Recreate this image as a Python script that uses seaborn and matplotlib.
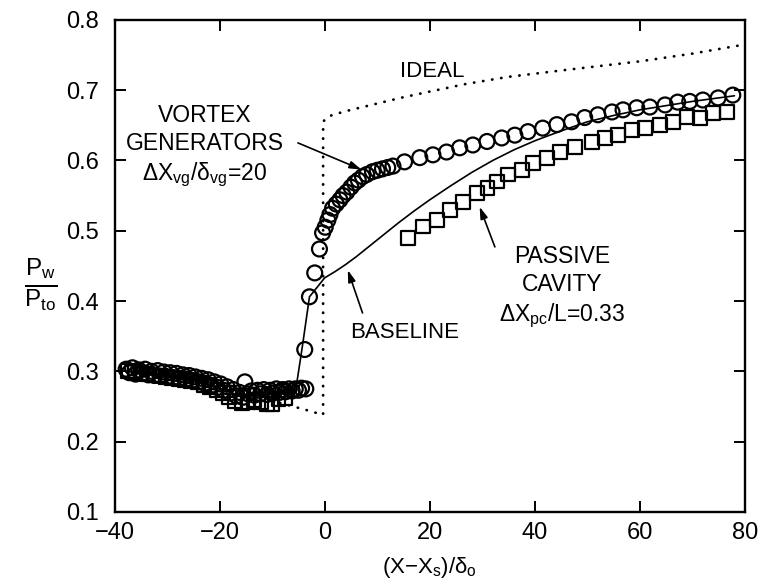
import numpy as np
import pandas as pd
import matplotlib
matplotlib.use("Agg")
import matplotlib.pyplot as plt
import seaborn as sns

# Wall pressure data
# vortex generators (circles)
vg_x = [-37.8, -37.2, -36.6, -36.0, -35.4, -34.8, -34.2, -33.6, -33.0, -32.4,
        -31.8, -31.2, -30.6, -30.0, -29.4, -28.8, -28.2, -27.6, -27.0, -26.4,
        -25.8, -25.2, -24.6, -24.0, -23.4, -22.8, -22.2, -21.6, -21.0, -20.4,
        -19.8, -19.2, -18.6, -18.0, -17.4, -16.8, -16.2, -15.6, -15.2, -14.6,
        -14.0, -13.4, -12.8, -12.2, -11.6, -11.0, -10.4, -9.8, -9.2, -8.6,
        -8.0, -7.4, -6.8, -6.2, -5.6, -5.0, -4.4, -3.6,
        -3.8, -2.9, -1.9, -1.0, -0.4, 0.1, 0.6, 1.0, 1.5, 2.2, 2.9, 3.5, 4.2,
        5.0, 5.7, 6.4, 7.2, 8.0, 9.1, 10.0, 11.0, 12.0, 13.0, 15.2,
        18.1, 20.6, 23.2, 25.7, 28.2, 30.9, 33.7, 36.2, 38.7, 41.5, 44.2,
        47.0, 49.5, 52.0, 54.7, 56.8, 59.4, 61.9, 64.8, 67.2, 69.5, 72.0,
        74.9, 77.7]
vg_y = [0.303, 0.298, 0.305, 0.296, 0.302, 0.297, 0.303, 0.295, 0.300, 0.294,
        0.301, 0.293, 0.299, 0.292, 0.298, 0.291, 0.297, 0.290, 0.295, 0.289,
        0.294, 0.287, 0.292, 0.285, 0.290, 0.283, 0.288, 0.280, 0.285, 0.277,
        0.282, 0.273, 0.278, 0.269, 0.274, 0.265, 0.270, 0.263, 0.285, 0.268,
        0.272, 0.266, 0.273, 0.268, 0.274, 0.267, 0.273, 0.269, 0.275, 0.270,
        0.274, 0.271, 0.275, 0.272, 0.275, 0.273, 0.276, 0.275,
        0.331, 0.406, 0.440, 0.474, 0.497, 0.505, 0.515, 0.523, 0.532, 0.538,
        0.544, 0.550, 0.555, 0.562, 0.568, 0.572, 0.577, 0.580, 0.584, 0.586,
        0.588, 0.590, 0.592, 0.598,
        0.604, 0.608, 0.612, 0.618, 0.622, 0.627, 0.632, 0.636, 0.641, 0.646,
        0.651, 0.655, 0.661, 0.665, 0.669, 0.672, 0.675, 0.676, 0.679, 0.683,
        0.684, 0.686, 0.689, 0.693]

# passive cavity (squares)
pc_x = [-37.4, -36.2, -35.0, -33.8, -32.6, -31.4, -30.2, -29.0, -27.8, -26.6,
        -25.4, -24.2, -23.0, -21.8, -20.6, -19.4, -18.2, -17.0, -15.8, -14.6,
        -13.4, -12.2, -11.0, -10.0, -8.8, -7.6,
        15.8, 18.7, 21.3, 23.8, 26.3, 29.0, 31.0, 32.8, 34.9, 37.5, 39.6,
        42.3, 44.8, 47.6, 50.9, 53.3, 55.8, 58.5, 61.0, 63.8, 66.3, 69.0,
        71.4, 73.9, 76.6]
pc_y = [0.300, 0.299, 0.297, 0.296, 0.294, 0.294, 0.292, 0.290, 0.289, 0.287,
        0.286, 0.284, 0.281, 0.278, 0.274, 0.269, 0.264, 0.258, 0.255, 0.256,
        0.259, 0.256, 0.254, 0.254, 0.260, 0.262,
        0.490, 0.506, 0.515, 0.530, 0.541, 0.554, 0.561, 0.570, 0.580, 0.587,
        0.597, 0.604, 0.612, 0.619, 0.626, 0.632, 0.636, 0.643, 0.646, 0.651,
        0.655, 0.662, 0.661, 0.668, 0.669]

# baseline (solid line)
base_x = [-38, -30, -24, -20, -16, -12, -8, -5.5, -5.3, -4.2, -2.9, 0.0, 2, 4,
          6, 8, 10, 12, 14, 17, 20, 24, 28, 32, 36, 40, 45, 50, 55, 60, 70, 78]
base_y = [0.300, 0.293, 0.286, 0.276, 0.264, 0.266, 0.269, 0.270, 0.284, 0.338,
          0.406, 0.433, 0.442, 0.452, 0.463, 0.475, 0.487, 0.499, 0.511, 0.528,
          0.544, 0.564, 0.583, 0.600, 0.615, 0.628, 0.642, 0.655, 0.664, 0.672,
          0.684, 0.692]

# ideal (dotted line)
ideal_x = [-8.5, -4, -0.3, -0.3, 0.5, 2, 5, 10, 15, 20, 27, 35, 45, 60, 70, 80]
ideal_y = [0.255, 0.246, 0.238, 0.655, 0.662, 0.666, 0.672, 0.681, 0.690,
           0.698, 0.709, 0.719, 0.728, 0.741, 0.752, 0.765]

sns.set_style("ticks")
plt.rcParams['font.family'] = ['Liberation Sans', 'DejaVu Sans']
plt.rcParams['mathtext.fontset'] = 'custom'
plt.rcParams['mathtext.rm'] = 'Liberation Sans'
plt.rcParams['mathtext.it'] = 'Liberation Sans'
plt.rcParams['mathtext.default'] = 'regular'
for key in ['text.color', 'axes.labelcolor', 'xtick.color', 'ytick.color',
            'axes.edgecolor']:
    plt.rcParams[key] = 'black'

fig = plt.figure(figsize=(7.64, 5.85), dpi=100)
ax = fig.add_axes([0.150, 0.125, 0.825, 0.841])

vg = pd.DataFrame({'x': vg_x, 'y': vg_y})
pc = pd.DataFrame({'x': pc_x, 'y': pc_y})
base = pd.DataFrame({'x': base_x, 'y': base_y})
ideal = pd.DataFrame({'x': ideal_x, 'y': ideal_y})

sns.lineplot(data=ideal, x='x', y='y', ax=ax, sort=False, estimator=None,
             color='black', lw=2.0, linestyle=(0, (0.1, 3.2)),
             dash_capstyle='round')
sns.lineplot(data=base, x='x', y='y', ax=ax, sort=False, estimator=None,
             color='black', lw=1.2)
sns.scatterplot(data=pc, x='x', y='y', ax=ax, marker='s', s=100,
                facecolors='none', edgecolor='black', linewidth=1.6)
sns.scatterplot(data=vg, x='x', y='y', ax=ax, marker='o', s=115,
                facecolors='none', edgecolor='black', linewidth=1.6)

ax.set_xlim(-40, 80)
ax.set_ylim(0.1, 0.8)
ax.set_xticks([-40, -20, 0, 20, 40, 60, 80])
ax.set_yticks([0.1, 0.2, 0.3, 0.4, 0.5, 0.6, 0.7, 0.8])
ax.set_yticklabels(['0.1', '0.2', '0.3', '0.4', '0.5', '0.6', '0.7', '0.8'])
ax.tick_params(direction='in', top=True, right=True, length=8, width=1.4,
               labelsize=17)
ax.tick_params(axis='y', pad=11)
ax.tick_params(axis='x', pad=7)
for sp in ax.spines.values():
    sp.set_linewidth(1.7)
    sp.set_visible(True)

ax.set_xlabel(r'(X$-$X$_s$)/$\delta_o$', fontsize=16, labelpad=8)
ax.set_ylabel(r'$\frac{P_w}{P_{to}}$', fontsize=25, rotation=0, va='center',
              ha='center')
ax.yaxis.set_label_coords(-0.118, 0.462)

arrow = dict(arrowstyle='-|>,head_length=0.7,head_width=0.22', color='black',
             lw=1.2, shrinkA=0, shrinkB=0)
ax.annotate('', xy=(7, 0.587), xytext=(-5.1, 0.625), arrowprops=arrow)
ax.annotate('', xy=(4.4, 0.444), xytext=(7.2, 0.383), arrowprops=arrow)
ax.annotate('', xy=(29.5, 0.534), xytext=(32.4, 0.477), arrowprops=arrow)

ax.text(20.4, 0.726, 'IDEAL', fontsize=16, ha='center', va='center')
ax.text(-22.9, 0.620, 'VORTEX\nGENERATORS\n' + r'$\Delta X_{vg}/\delta_{vg}$=20',
        fontsize=16.5, ha='center', va='center', linespacing=1.3)
ax.text(15.2, 0.355, 'BASELINE', fontsize=16, ha='center', va='center')
ax.text(45.3, 0.419, 'PASSIVE\nCAVITY\n' + r'$\Delta X_{pc}$/L=0.33',
        fontsize=16.5, ha='center', va='center', linespacing=1.3)

fig.savefig('out.png', dpi=100)
